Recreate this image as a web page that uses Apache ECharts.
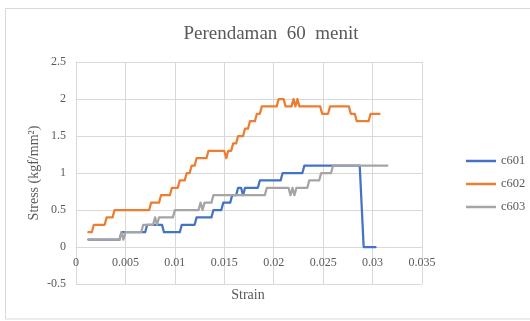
<!DOCTYPE html>
<html>
<head>
<meta charset="utf-8">
<script src="https://cdn.jsdelivr.net/npm/echarts@6/dist/echarts.min.js"></script>
<style>html,body{margin:0;padding:0;background:#fff;}#c{width:530px;height:321px;}</style>
</head>
<body>
<div id="c"></div>
<script>
var title = 'Perendaman  60  menit';
var xName = 'Strain';
var yName = 'Stress (kgf/mm\u00B2)';
var seriesNames = ['c601', 'c602', 'c603'];
var seriesColors = ['#4472C4', '#ED7D31', '#A5A5A5'];

var c601Strain = [0.00125,0.0044,0.0046,0.007,0.0072,0.0087,0.0089,0.0105,0.0107,0.012,0.0122,0.0137,0.0139,0.0147,0.0149,0.0156,0.0158,0.0162,0.0164,0.0167,0.0169,0.0171,0.0184,0.0186,0.0207,0.0209,0.0229,0.0231,0.0287,0.0291,0.0303];
var c601Stress = [0.1,0.1,0.2,0.2,0.3,0.3,0.2,0.2,0.3,0.3,0.4,0.4,0.5,0.5,0.6,0.6,0.7,0.7,0.8,0.8,0.7,0.8,0.8,0.9,0.9,1.0,1.0,1.1,1.1,0,0];

var c602Strain = [0.00125,0.0016,0.0018,0.0029,0.0031,0.0037,0.0039,0.0074,0.0076,0.0084,0.0086,0.0095,0.0097,0.0103,0.0105,0.011,0.0112,0.0115,0.0117,0.012,0.0122,0.0132,0.0134,0.015,0.0152,0.0154,0.0157,0.0159,0.0162,0.0164,0.0169,0.0171,0.0174,0.0176,0.0181,0.0183,0.0186,0.0188,0.0203,0.0205,0.021,0.0212,0.0218,0.022,0.0222,0.0224,0.0226,0.0247,0.0249,0.0255,0.0257,0.0276,0.0278,0.0282,0.0284,0.0296,0.0298,0.0307];
var c602Stress = [0.2,0.2,0.3,0.3,0.4,0.4,0.5,0.5,0.6,0.6,0.7,0.7,0.8,0.8,0.9,0.9,1.0,1.0,1.1,1.1,1.2,1.2,1.3,1.3,1.2,1.3,1.3,1.4,1.4,1.5,1.5,1.6,1.6,1.7,1.7,1.8,1.8,1.9,1.9,2.0,2.0,1.9,1.9,2.0,1.9,2.0,1.9,1.9,1.8,1.8,1.9,1.9,1.8,1.8,1.7,1.7,1.8,1.8];

var c603Strain = [0.00125,0.0044,0.0046,0.0048,0.005,0.0066,0.0068,0.0078,0.008,0.0082,0.0084,0.0098,0.01,0.0124,0.0126,0.0128,0.013,0.0137,0.0139,0.0191,0.0193,0.0215,0.0217,0.0219,0.0221,0.0223,0.0234,0.0236,0.0246,0.0248,0.0258,0.026,0.0315];
var c603Stress = [0.1,0.1,0.2,0.1,0.2,0.2,0.3,0.3,0.4,0.3,0.4,0.4,0.5,0.5,0.6,0.5,0.6,0.6,0.7,0.7,0.8,0.8,0.7,0.8,0.7,0.8,0.8,0.9,0.9,1.0,1.0,1.1,1.1];

var xTicks = {min: 0, max: 0.035, interval: 0.005};
var yTicks = {min: -0.5, max: 2.5, interval: 0.5};

function pairs(xs, ys) { return xs.map(function (x, i) { return [x, ys[i]]; }); }
var allData = [pairs(c601Strain, c601Stress), pairs(c602Strain, c602Stress), pairs(c603Strain, c603Stress)];

var font = '"Liberation Serif", "Times New Roman", serif';
var txt = '#595959';
var gridCol = '#d9d9d9';

var gridTop = 62, gridBottom = 37, chartH = 321;
var plotH = chartH - gridTop - gridBottom;
// distance from the bottom of the plot to the y = 0 line
var zeroOffset = plotH * (0 - yTicks.min) / (yTicks.max - yTicks.min);

var chart = echarts.init(document.getElementById('c'), null, {renderer: 'canvas'});
chart.setOption({
  animation: false,
  backgroundColor: '#fff',
  title: {
    text: title, left: 266, top: 20, textAlign: 'center',
    textStyle: {fontFamily: font, fontSize: 19, fontWeight: 'normal', color: txt}
  },
  graphic: [
    {type: 'rect', shape: {x: 5.5, y: 8.5, width: 540, height: 310.5}, style: {fill: 'none', stroke: gridCol, lineWidth: 1}, z: -10, silent: true},
    {type: 'text', x: 248, y: 295, style: {text: xName, font: '14px ' + font, fill: txt, align: 'center', verticalAlign: 'middle'}},
    {type: 'text', x: 34, y: 173, rotation: Math.PI / 2, style: {text: yName, font: '14px ' + font, fill: txt, align: 'center', verticalAlign: 'middle'}}
  ],
  legend: {
    orient: 'vertical', left: 461, top: 149,
    icon: 'rect', itemWidth: 30, itemHeight: 2.5, itemGap: 9,
    textStyle: {fontFamily: font, fontSize: 12.5, color: txt, lineHeight: 14},
    data: seriesNames
  },
  grid: {left: 76, top: gridTop, right: 108, bottom: gridBottom, containLabel: false, outerBoundsMode: 'none'},
  xAxis: {
    type: 'value', min: xTicks.min, max: xTicks.max, interval: xTicks.interval,
    offset: -zeroOffset,
    axisLine: {onZero: false, lineStyle: {color: gridCol, width: 1}},
    axisTick: {show: false},
    splitLine: {show: true, lineStyle: {color: gridCol, width: 1}},
    axisLabel: {fontFamily: font, fontSize: 12, color: txt, margin: 10,
      formatter: function (v) { return String(+v.toFixed(4)); }}
  },
  yAxis: {
    type: 'value', min: yTicks.min, max: yTicks.max, interval: yTicks.interval,
    axisLine: {show: true, onZero: false, lineStyle: {color: gridCol, width: 1}},
    axisTick: {show: false},
    splitLine: {show: true, lineStyle: {color: gridCol, width: 1}},
    axisLabel: {fontFamily: font, fontSize: 12, color: txt, margin: 10,
      formatter: function (v) { return String(+v.toFixed(2)); }}
  },
  series: seriesNames.map(function (n, i) {
    return {
      name: n, type: 'line', data: allData[i], symbol: 'none',
      color: seriesColors[i],
      lineStyle: {color: seriesColors[i], width: 2.25, join: 'round', cap: 'round'}
    };
  })
});
</script>
</body>
</html>
